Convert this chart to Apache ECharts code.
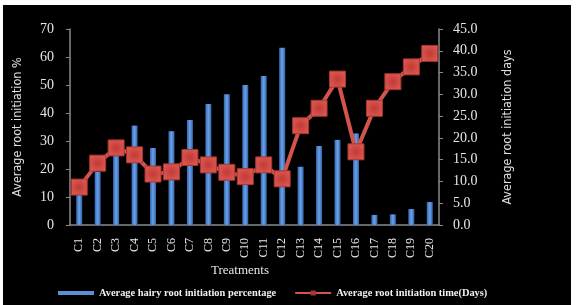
<!DOCTYPE html>
<html>
<head>
<meta charset="utf-8">
<script src="https://cdn.jsdelivr.net/npm/echarts@6/dist/echarts.min.js"></script>
<style>
  html, body { margin: 0; padding: 0; background: #fff; }
  #chart { position: absolute; left: 3px; top: 5px; width: 568px; height: 300px; }
</style>
</head>
<body>
<div id="chart"></div>
<script>
// values
const treatments = ['C1', 'C2', 'C3', 'C4', 'C5', 'C6', 'C7', 'C8', 'C9', 'C10',
  'C11', 'C12', 'C13', 'C14', 'C15', 'C16', 'C17', 'C18', 'C19', 'C20']
const hairyRootPct = [11, 19, 25, 35.5, 27.5, 33.5, 37.5, 43.2, 46.7, 50,
  53.2, 63.3, 20.8, 28.2, 30.4, 32.7, 3.6, 3.8, 5.7, 8.2]
const initiationDays = [8.7, 14.2, 17.7, 16.1, 11.7, 12.2, 15.5, 13.8, 12.1, 11.1,
  13.8, 10.6, 22.8, 26.8, 33.5, 16.8, 26.8, 32.9, 36.3, 39.4]

const chart = echarts.init(document.getElementById('chart'))

const labelStyle = {
  fontFamily: 'Liberation Serif',
  color: '#e6e6e6'
}
const nameStyle = {
  fontFamily: '"DejaVu Sans Condensed", "Liberation Sans Narrow", "Liberation Sans"',
  fontSize: 12.5,
  color: '#e0e0e0'
}

chart.setOption({
  backgroundColor: '#000',
  animation: false,
  grid: {
    left: 66,
    right: 132,
    top: 24,
    bottom: 80
  },
  graphic: [
    {
      type: 'text',
      left: 208,
      top: 259,
      style: {
        text: 'Treatments',
        fill: '#e6e6e6',
        font: '13px "Liberation Serif"'
      }
    }
  ],
  legend: {
    bottom: 2,
    left: 50,
    itemGap: 18,
    textStyle: {
      fontFamily: 'Liberation Serif',
      fontWeight: 'bold',
      fontSize: 10.4,
      color: '#f0f0f0'
    },
    data: [
      { name: 'Average hairy root initiation percentage', icon: 'rect', itemStyle: { color: '#5a8fd6' } },
      { name: 'Average root initiation time(Days)' }
    ],
    itemWidth: 36,
    itemHeight: 4
  },
  xAxis: [
    {
      type: 'category',
      data: treatments,
      axisLine: { lineStyle: { color: '#8a8a8a', width: 1.5 } },
      axisTick: { lineStyle: { color: '#8a8a8a' }, length: 4 },
      axisLabel: Object.assign({ rotate: 90, fontSize: 12, margin: 13, interval: 0 }, labelStyle)
    }
  ],
  yAxis: [
    {
      type: 'value',
      min: 0,
      max: 70,
      interval: 10,
      name: 'Average root initiation %',
      nameLocation: 'middle',
      nameRotate: 90,
      nameGap: 46,
      nameTextStyle: nameStyle,
      splitLine: { show: false },
      axisLine: { show: true, lineStyle: { color: '#8a8a8a', width: 1.5 } },
      axisTick: { show: true, lineStyle: { color: '#8a8a8a' }, length: 4 },
      axisLabel: Object.assign({ fontSize: 14, margin: 16 }, labelStyle)
    },
    {
      type: 'value',
      min: 0,
      max: 45,
      interval: 5,
      name: 'Average root initiation days',
      nameLocation: 'middle',
      nameRotate: 90,
      nameGap: 62,
      nameTextStyle: nameStyle,
      splitLine: { show: false },
      axisLine: { show: true, lineStyle: { color: '#8a8a8a', width: 1.5 } },
      axisTick: { show: true, lineStyle: { color: '#8a8a8a' }, length: 4 },
      axisLabel: Object.assign({ fontSize: 14, margin: 14, formatter: v => v.toFixed(1) }, labelStyle)
    }
  ],
  series: [
    {
      name: 'Average hairy root initiation percentage',
      type: 'bar',
      yAxisIndex: 0,
      barWidth: 6,
      data: hairyRootPct,
      itemStyle: {
        color: new echarts.graphic.LinearGradient(0, 0, 1, 0, [
          { offset: 0, color: '#3566b0' },
          { offset: 0.5, color: '#6aa2ea' },
          { offset: 1, color: '#3160a8' }
        ])
      }
    },
    {
      name: 'Average root initiation time(Days)',
      type: 'line',
      yAxisIndex: 1,
      data: initiationDays,
      symbol: 'rect',
      symbolSize: 16,
      lineStyle: { color: '#d2544d', width: 4 },
      itemStyle: {
        color: new echarts.graphic.RadialGradient(0.5, 0.5, 0.7, [
          { offset: 0, color: '#c23a35' },
          { offset: 1, color: '#e2615a' }
        ]),
        borderColor: '#a83430',
        borderWidth: 1
      }
    }
  ]
})
</script>
</body>
</html>
